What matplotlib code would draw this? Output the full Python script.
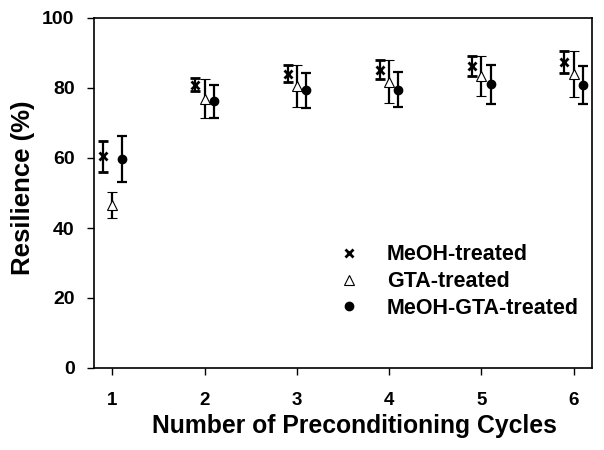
import numpy as np
import matplotlib
matplotlib.use('Agg')
import matplotlib.pyplot as plt

plt.rcParams['font.family']=['Liberation Sans','DejaVu Sans']
plt.rcParams['font.weight']='bold'

cycles=[1,2,3,4,5,6]
meoh=[60.5,81.0,84.1,85.2,86.3,87.4]
meoh_err=[4.4,1.9,2.4,2.7,2.9,3.1]
gta=[46.5,77.0,80.6,81.8,83.4,84.0]
gta_err=[3.7,5.5,6.0,6.1,5.8,6.5]
mg=[59.8,76.2,79.3,79.5,81.1,80.9]
mg_err=[6.6,4.8,5.0,5.0,5.6,5.4]
OFF=0.1

fig=plt.figure(figsize=(6.04,4.5),dpi=100,facecolor='white')
ax=fig.add_axes([94/604,1-368/450,(592-94)/604,(368-18)/450])

x=np.array(cycles,dtype=float)
eb=dict(ecolor='black',elinewidth=1.6,capsize=3.6,capthick=1.6,ls='none')
ax.errorbar(x-OFF,meoh,yerr=meoh_err,marker='x',ms=5.5,mew=2,color='black',label='MeOH-treated',**eb)
ax.errorbar(x,gta,yerr=gta_err,marker='^',ms=6.5,mfc='white',mec='black',mew=0.8,color='black',label='GTA-treated',**eb)
ax.errorbar(x+OFF,mg,yerr=mg_err,marker='o',ms=6,mfc='black',mec='black',color='black',label='MeOH-GTA-treated',**eb)

ax.set_xlim(0.8,6.2); ax.set_ylim(0,100)
ax.set_xticks(cycles); ax.set_yticks([0,20,40,60,80,100])
ax.tick_params(direction='out',length=5,width=1)
ax.tick_params(axis='y',labelsize=14,pad=9)
ax.tick_params(axis='x',labelsize=13.5,pad=12)
for s in ax.spines.values(): s.set_linewidth(1.2)
ax.set_xlabel('Number of Preconditioning Cycles',fontsize=17.8,fontweight='bold')
ax.set_ylabel('Resilience (%)',fontsize=18.5,fontweight='bold')
ax.xaxis.set_label_coords(0.523,-0.132)
ax.yaxis.set_label_coords(-0.1177,0.516)

h,l=ax.get_legend_handles_labels()
h=[hh[0] for hh in h]
ax.legend(h,l,loc='lower right',bbox_to_anchor=(1.013,0.085),frameon=False,fontsize=15.5,
          handlelength=0.8,handletextpad=1.35,labelspacing=0.27,numpoints=1)

plt.savefig('out.png',dpi=100,facecolor='white')
